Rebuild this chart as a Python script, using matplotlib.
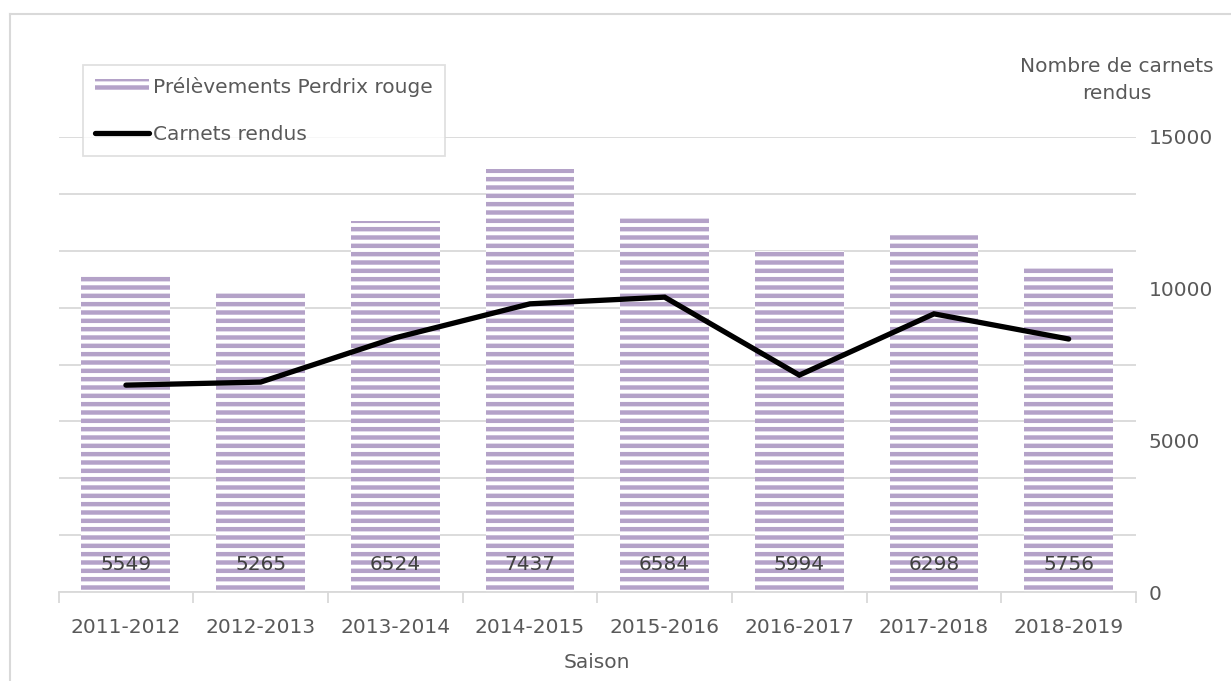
import matplotlib
matplotlib.use("Agg")
import matplotlib.pyplot as plt
from matplotlib.lines import Line2D
from matplotlib.patches import Patch
import numpy as np

seasons = ["2011-2012", "2012-2013", "2013-2014", "2014-2015",
           "2015-2016", "2016-2017", "2017-2018", "2018-2019"]
prelevements = [5549, 5265, 6524, 7437, 6584, 5994, 6298, 5756]
carnets = [6820, 6920, 8380, 9500, 9720, 7150, 9170, 8340]
right_ticks = [0, 5000, 10000, 15000]

plt.rcParams['font.family'] = ['DejaVu Sans']
plt.rcParams['hatch.linewidth'] = 3.2

PURPLE = '#b4a2c8'
TXT = '#595959'
GRID = '#d9d9d9'
FS = 14.5
LW = 3.8

fig = plt.figure(figsize=(12.31, 6.81), dpi=100)
W, H = 1231, 681
x0, x1 = 58.6, 1136
y0, y1 = 592, 137
ax = fig.add_axes([x0 / W, (H - y0) / H, (x1 - x0) / W, (y0 - y1) / H])

x = np.arange(len(seasons))
ax.bar(x, prelevements, width=0.66, facecolor='white', edgecolor=PURPLE,
       linewidth=0, hatch='--', zorder=2)
ax.set_xlim(-0.5, len(seasons) - 0.5)
ax.set_ylim(0, 8000)
ax.set_yticks(np.arange(0, 8001, 1000))
ax.yaxis.grid(True, color=GRID, linewidth=1.3, zorder=0)
ax.set_axisbelow(True)
for s in ['top', 'right', 'left']:
    ax.spines[s].set_visible(False)
ax.spines['bottom'].set_color(GRID)
ax.spines['bottom'].set_linewidth(1.3)
ax.set_xticks(x)
ax.set_xticklabels(seasons, fontsize=FS, color=TXT)
ax.tick_params(axis='x', length=0, pad=19)
ax.set_xticks(np.arange(-0.5, len(seasons), 1), minor=True)
ax.tick_params(axis='x', which='minor', length=8, color=GRID, width=1.3)
ax.set_xlabel("Saison", fontsize=FS, color=TXT, labelpad=11)

for xi, v in zip(x, prelevements):
    ax.text(xi, 480, str(v), ha='center', va='center', fontsize=FS,
            color='#404040', zorder=3)

ax2 = ax.twinx()
ax2.plot(x, carnets, color='black', linewidth=LW, solid_capstyle='round',
         solid_joinstyle='miter', zorder=4)
ax2.set_ylim(0, 15000)
ax2.set_yticks(right_ticks)
ax2.set_yticklabels([str(t) for t in right_ticks], fontsize=FS, color=TXT)
ax2.tick_params(axis='y', length=0, pad=9)
for s in ['top', 'right', 'left', 'bottom']:
    ax2.spines[s].set_visible(False)
ax.tick_params(axis='y', left=False, right=False, labelleft=False, labelright=False)

fig.text(1117 / W, 1 - 80 / H, "Nombre de carnets\nrendus", ha='center',
         va='center', fontsize=FS, color=TXT, linespacing=1.55)

handles = [Patch(facecolor='white', edgecolor=PURPLE, linewidth=0, hatch='--'),
           Line2D([0], [0], color='black', linewidth=LW, solid_capstyle='round')]
leg = fig.legend(handles, ["Prélèvements Perdrix rouge", "Carnets rendus"],
                 loc='upper left', bbox_to_anchor=(83 / W, 1 - 65 / H),
                 fontsize=FS, labelcolor=TXT, frameon=True, fancybox=False,
                 edgecolor=GRID, borderpad=0.6, handlelength=2.7,
                 handletextpad=0.2, labelspacing=1.4, borderaxespad=0)
leg.get_frame().set_linewidth(1.3)

# outer chart border
fig.add_artist(Line2D([10 / W, 10 / W], [0, 1 - 14 / H], color=GRID,
                      linewidth=1.5, transform=fig.transFigure))
fig.add_artist(Line2D([10 / W, 1], [1 - 14 / H, 1 - 14 / H], color=GRID,
                      linewidth=1.5, transform=fig.transFigure))

fig.savefig("out.png", dpi=100)
